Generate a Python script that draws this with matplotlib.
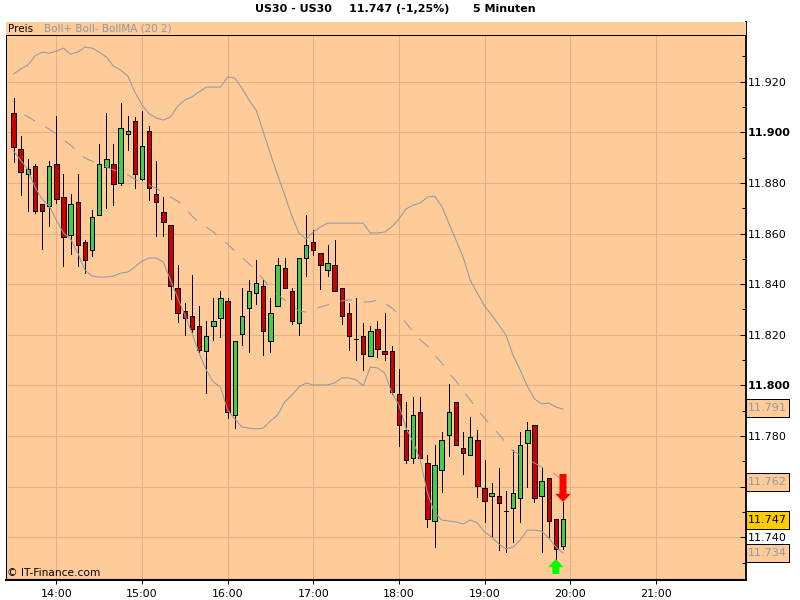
#!/usr/bin/env python3
"""US30 5 minute candle chart with Bollinger bands (20, 2)."""

import numpy as np
import matplotlib
matplotlib.use('Agg')
import matplotlib.pyplot as plt
from matplotlib.patches import Rectangle
from matplotlib.transforms import blended_transform_factory

plt.rcParams['font.family'] = 'DejaVu Sans'
plt.rcParams['lines.scale_dashes'] = False

BG = '#FFCC99'
GRID = '#DFB083'
BAND = '#8E99A6'
RED = '#CC0000'
GREEN = '#44CC44'
THIN = 0.72  # one pixel at 100 dpi

# bars are 5 minutes apart, first one at 13:30
first_hour = 13.5
bar_hours = 5 / 60

opens = [11.9076, 11.8934, 11.8835, 11.8866, 11.8716, 11.8708, 11.8874, 11.8744, 11.8594, 11.8724,
         11.8566, 11.8535, 11.8673, 11.8862, 11.8874, 11.8799, 11.8993, 11.9044, 11.8815, 11.9005,
         11.8756, 11.8685, 11.8633, 11.8385, 11.8294, 11.8274, 11.8235, 11.8136, 11.8235, 11.8266,
         11.8334, 11.7884, 11.8203, 11.8306, 11.8365, 11.8393, 11.8176, 11.8314, 11.8464, 11.8373,
         11.8247, 11.8503, 11.8566, 11.8523, 11.8456, 11.8476, 11.8385, 11.8286, 11.8183, 11.8195,
         11.8116, 11.8223, 11.8136, 11.8136, 11.7966, 11.7824, 11.7714, 11.7895, 11.7694, 11.7465,
         11.7666, 11.7805, 11.7935, 11.7753, 11.7726, 11.7785, 11.7595, 11.7564, 11.7564, 11.7505,
         11.7516, 11.7556, 11.7773, 11.7844, 11.7564, 11.7635, 11.7473, 11.7366]
highs = [11.9135, 11.8985, 11.8894, 11.8874, 11.8716, 11.8886, 11.9064, 11.8835, 11.8756, 11.8835,
         11.8574, 11.8693, 11.8953, 11.9076, 11.8953, 11.9115, 11.9064, 11.9060, 11.9084, 11.9024,
         11.8886, 11.8744, 11.8633, 11.8476, 11.8326, 11.8436, 11.8314, 11.8255, 11.8345, 11.8373,
         11.8345, 11.8176, 11.8385, 11.8416, 11.8495, 11.8416, 11.8345, 11.8503, 11.8503, 11.8385,
         11.8503, 11.8673, 11.8614, 11.8523, 11.8555, 11.8574, 11.8385, 11.8326, 11.8345, 11.8247,
         11.8235, 11.8255, 11.8286, 11.8156, 11.8065, 11.7935, 11.7954, 11.7954, 11.7726, 11.7765,
         11.7816, 11.8006, 11.7935, 11.7816, 11.7876, 11.7824, 11.7706, 11.7615, 11.7674, 11.7583,
         11.7745, 11.7816, 11.7856, 11.7844, 11.7674, 11.7635, 11.7473, 11.7540]
lows = [11.8882, 11.8752, 11.8689, 11.8681, 11.8539, 11.8630, 11.8720, 11.8472, 11.8519, 11.8472,
        11.8444, 11.8511, 11.8673, 11.8701, 11.8712, 11.8791, 11.8930, 11.8779, 11.8811, 11.8732,
        11.8590, 11.8590, 11.8341, 11.8251, 11.8199, 11.8211, 11.8132, 11.7970, 11.8180, 11.8191,
        11.7872, 11.7832, 11.8160, 11.8132, 11.8322, 11.8120, 11.8132, 11.8314, 11.8385, 11.8243,
        11.8199, 11.8432, 11.8515, 11.8381, 11.8432, 11.8373, 11.8243, 11.8140, 11.8101, 11.8061,
        11.8116, 11.8112, 11.8101, 11.7966, 11.7761, 11.7694, 11.7694, 11.7714, 11.7441, 11.7362,
        11.7580, 11.7722, 11.7765, 11.7651, 11.7726, 11.7560, 11.7461, 11.7402, 11.7351, 11.7343,
        11.7382, 11.7461, 11.7599, 11.7540, 11.7343, 11.7402, 11.7315, 11.7355]
closes = [11.8941, 11.8843, 11.8855, 11.8689, 11.8689, 11.8866, 11.8736, 11.8586, 11.8716, 11.8555,
          11.8495, 11.8665, 11.8874, 11.8894, 11.8795, 11.9016, 11.9005, 11.8835, 11.8945, 11.8779,
          11.8724, 11.8645, 11.8393, 11.8286, 11.8266, 11.8223, 11.8140, 11.8195, 11.8255, 11.8345,
          11.7895, 11.8176, 11.8274, 11.8373, 11.8405, 11.8215, 11.8286, 11.8476, 11.8385, 11.8255,
          11.8503, 11.8555, 11.8535, 11.8476, 11.8483, 11.8373, 11.8274, 11.8195, 11.8183, 11.8124,
          11.8215, 11.8144, 11.8124, 11.7974, 11.7844, 11.7706, 11.7884, 11.7714, 11.7473, 11.7686,
          11.7785, 11.7895, 11.7765, 11.7734, 11.7797, 11.7603, 11.7544, 11.7576, 11.7536, 11.7505,
          11.7576, 11.7765, 11.7824, 11.7556, 11.7623, 11.7465, 11.7355, 11.7473]

boll_upper = [11.9230, 11.9249, 11.9265, 11.9301, 11.9316, 11.9312, 11.9320, 11.9332, 11.9308, 11.9316,
              11.9336, 11.9332, 11.9316, 11.9297, 11.9261, 11.9245, 11.9222, 11.9159, 11.9107, 11.9072,
              11.9056, 11.9048, 11.9060, 11.9103, 11.9127, 11.9139, 11.9159, 11.9178, 11.9178, 11.9178,
              11.9218, 11.9214, 11.9174, 11.9127, 11.9087, 11.9001, 11.8914, 11.8831, 11.8752, 11.8669,
              11.8602, 11.8578, 11.8606, 11.8626, 11.8641, 11.8641, 11.8641, 11.8641, 11.8641, 11.8641,
              11.8602, 11.8602, 11.8606, 11.8626, 11.8657, 11.8697, 11.8712, 11.8720, 11.8744, 11.8748,
              11.8708, 11.8641, 11.8574, 11.8507, 11.8416, 11.8365, 11.8314, 11.8278, 11.8239, 11.8199,
              11.8120, 11.8061, 11.7998, 11.7947, 11.7927, 11.7931, 11.7915, 11.7907]
boll_ma = [11.9083, 11.9076, 11.9061, 11.9044, 11.9028, 11.9012, 11.8993, 11.8969, 11.8949, 11.8922,
           11.8898, 11.8886, 11.8874, 11.8862, 11.8851, 11.8843, 11.8831, 11.8815, 11.8803, 11.8791,
           11.8779, 11.8760, 11.8744, 11.8728, 11.8705, 11.8669, 11.8645, 11.8626, 11.8606, 11.8582,
           11.8558, 11.8531, 11.8507, 11.8480, 11.8452, 11.8420, 11.8385, 11.8357, 11.8338, 11.8314,
           11.8294, 11.8290, 11.8298, 11.8310, 11.8318, 11.8330, 11.8334, 11.8338, 11.8334, 11.8330,
           11.8330, 11.8338, 11.8326, 11.8306, 11.8282, 11.8247, 11.8211, 11.8180, 11.8156, 11.8120,
           11.8089, 11.8049, 11.8018, 11.7978, 11.7943, 11.7903, 11.7872, 11.7840, 11.7808, 11.7773,
           11.7741, 11.7726, 11.7710, 11.7694, 11.7678, 11.7666, 11.7647, 11.7627]
boll_lower = [11.8926, 11.8890, 11.8851, 11.8783, 11.8736, 11.8708, 11.8653, 11.8602, 11.8578, 11.8523,
              11.8456, 11.8432, 11.8428, 11.8428, 11.8432, 11.8444, 11.8448, 11.8468, 11.8491, 11.8503,
              11.8503, 11.8487, 11.8416, 11.8345, 11.8278, 11.8207, 11.8128, 11.8061, 11.8014, 11.7994,
              11.7903, 11.7868, 11.7836, 11.7832, 11.7828, 11.7832, 11.7860, 11.7883, 11.7935, 11.7962,
              11.7994, 11.8010, 11.8002, 11.8002, 11.8002, 11.8010, 11.8030, 11.8030, 11.8022, 11.7998,
              11.8073, 11.8069, 11.8049, 11.7974, 11.7923, 11.7832, 11.7777, 11.7706, 11.7576, 11.7497,
              11.7469, 11.7465, 11.7461, 11.7453, 11.7469, 11.7457, 11.7422, 11.7402, 11.7374, 11.7355,
              11.7362, 11.7390, 11.7429, 11.7429, 11.7425, 11.7398, 11.7362, 11.7339]

y_major = [11.74, 11.76, 11.78, 11.80, 11.82, 11.84, 11.86, 11.88, 11.90, 11.92]
y_minor = [11.73, 11.75, 11.77, 11.79, 11.81, 11.83, 11.85, 11.87, 11.89, 11.91, 11.93]
x_hours = [14, 15, 16, 17, 18, 19, 20, 21]
x_labels = ['14:00', '15:00', '16:00', '17:00', '18:00', '19:00', '20:00', '21:00']

last_labels = [(11.791, BAND, BG), (11.762, BAND, BG), (11.747, 'black', '#FFCC00'), (11.734, BAND, BG)]

opens = np.array(opens)
closes = np.array(closes)
x = first_hour + np.arange(len(opens)) * bar_hours

fig = plt.figure(figsize=(8, 6), dpi=100, facecolor='white')
W, H = 800.0, 600.0
L, R, T, B = 5.5, 745.5, 21.5, 579.5
ax = fig.add_axes([L / W, 1 - B / H, (R - L) / W, (B - T) / H], facecolor=BG)
ax.set_xlim(13.406, 22.048)
ax.set_ylim(11.7234, 11.9437)

# grid and ticks
ax.set_axisbelow(True)
ax.grid(True, which='major', color=GRID, linewidth=THIN, antialiased=False)
ax.set_xticks(x_hours, x_labels)
ax.set_yticks(y_major)
ax.set_yticklabels(['%.3f' % v for v in y_major])
ax.set_yticks(y_minor, minor=True)
ax.yaxis.tick_right()
ax.tick_params(axis='y', which='both', direction='in', width=THIN, pad=1.5, labelsize=8)
ax.tick_params(axis='y', which='major', length=4.5)
ax.tick_params(axis='y', which='minor', length=3)
ax.tick_params(axis='x', direction='out', length=3, width=THIN, pad=3.5, labelsize=8)
for lab, v in zip(ax.get_yticklabels(), y_major):
    if v in (11.80, 11.90):
        lab.set_fontweight('bold')
for side, lw in (('left', THIN), ('top', THIN), ('right', 1.3), ('bottom', 1.5)):
    ax.spines[side].set_linewidth(lw)

# candles
ups = closes >= opens
body_w = 4.4 / 85.57
ax.vlines(x, lows, highs, color='black', linewidth=THIN, zorder=3, antialiased=False)
ax.bar(x, np.abs(closes - opens), bottom=np.minimum(opens, closes), width=body_w,
       color=[GREEN if u else RED for u in ups], edgecolor='black', linewidth=THIN, zorder=4,
       antialiased=False)

# bollinger bands
ax.plot(x, boll_upper, color=BAND, linewidth=0.75, zorder=5)
ax.plot(x, boll_lower, color=BAND, linewidth=0.75, zorder=5)
ax.plot(x, boll_ma, color=BAND, linewidth=0.75, zorder=5, linestyle=(9.0, (9.0, 8.3)))

# signal arrows on the last two bars
ax.annotate('', xy=(x[-1], highs[-1]), xytext=(0, 28), textcoords='offset pixels',
            arrowprops=dict(arrowstyle='simple,head_length=0.42,head_width=0.8,tail_width=0.36',
                            mutation_scale=14, color='#FF0000', shrinkA=0, shrinkB=0, lw=0), zorder=7)
ax.annotate('', xy=(x[-2], lows[-2]), xytext=(0, -15), textcoords='offset pixels',
            arrowprops=dict(arrowstyle='simple,head_length=0.42,head_width=0.8,tail_width=0.36',
                            mutation_scale=14, color='#00FF00', shrinkA=0, shrinkB=0, lw=0), zorder=7)

# header strip
strip_h = 13.5 / (B - T)
ax.add_patch(Rectangle((0, 1 - strip_h), 1, strip_h, transform=ax.transAxes, facecolor=BG,
                       edgecolor='none', zorder=8))
ax.plot([0, 1], [1 - strip_h, 1 - strip_h], transform=ax.transAxes, color='black', linewidth=THIN,
        zorder=9, antialiased=False)
fig.text(8 / W, 1 - 28.5 / H, 'Preis', fontsize=7.5, color='black', ha='left', va='center')
fig.text(44 / W, 1 - 28.5 / H, 'Boll+ Boll- BollMA (20 2)', fontsize=7.5, color=BAND, ha='left', va='center')
fig.text(7 / W, 1 - 573 / H, '© IT-Finance.com', fontsize=7.7, color='black', ha='left', va='center')

# last value boxes on the price axis
trans = blended_transform_factory(ax.transAxes, ax.transData)
box_h = 18 * (ax.get_ylim()[1] - ax.get_ylim()[0]) / (B - T)
for val, col, face in last_labels:
    ax.add_patch(Rectangle((1.0, val - box_h / 2), 43 / (R - L), box_h, transform=trans, facecolor=face,
                           edgecolor='black', linewidth=THIN, clip_on=False, zorder=10, antialiased=False))
    ax.text(1.0 + 2 / (R - L), val, '%.3f' % val, transform=trans, color=col, fontsize=8, ha='left',
            va='center', clip_on=False, zorder=11)

# title
for px, txt in ((255, 'US30 - US30'), (349, '11.747 (-1,25%)'), (473, '5 Minuten')):
    fig.text(px / W, 1 - 9.5 / H, txt, fontsize=8, fontweight='bold', color='black', ha='left', va='center')

fig.savefig('out.png', dpi=100, facecolor='white')
plt.close(fig)
